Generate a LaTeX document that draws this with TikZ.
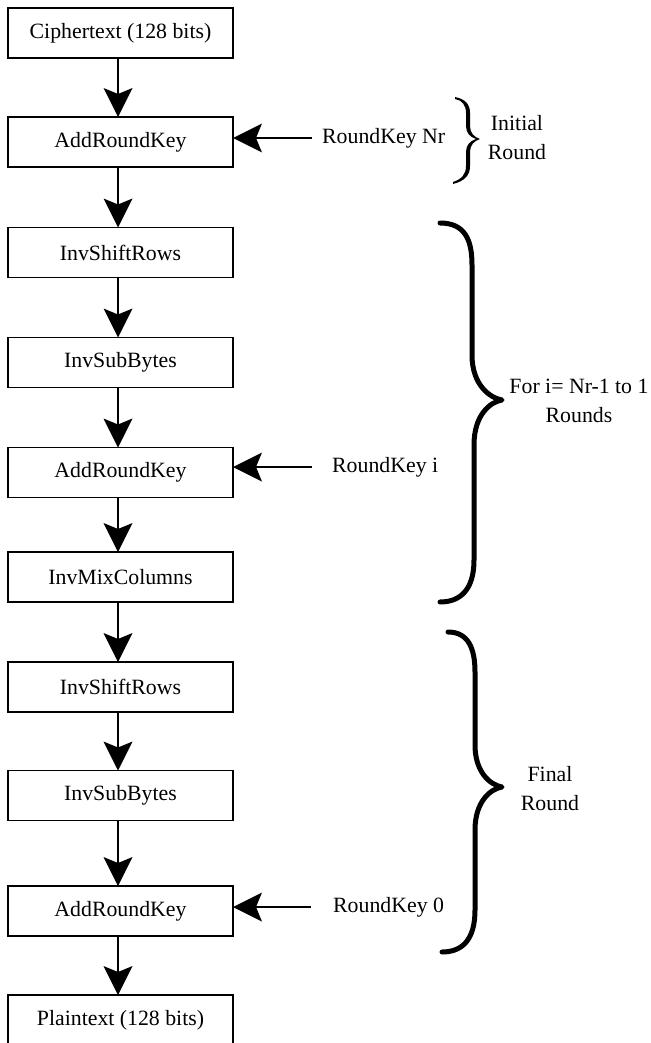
\documentclass[tikz,border=0pt]{standalone}
\usepackage{fontspec}
\setmainfont{Liberation Serif}
\usetikzlibrary{arrows.meta}
\begin{document}
\begin{tikzpicture}[x=1pt,y=-1pt,
  font=\fontsize{21.8}{29}\selectfont,
  stage/.style={draw, line width=1.8pt, minimum width=225pt, minimum height=50pt,
    inner sep=0pt, outer sep=0pt},
  flow/.style={line width=1.8pt,
    -{Stealth[length=29pt 0,width=29pt 0,inset=6pt 0,line width=0pt,fill=black]}},
  keylabel/.style={anchor=west, inner sep=0pt},
  bracelabel/.style={align=center, inner sep=0pt},
  bigbrace/.style={line width=5pt, line cap=round, line join=round}]
\useasboundingbox (0,0) rectangle (650,1043);

% main column of stages
\node[stage] (b1)  at (120.5,33)    {Ciphertext (128 bits)};
\node[stage] (b2)  at (120.5,142)   {AddRoundKey};
\node[stage] (b3)  at (120.5,252.5) {InvShiftRows};
\node[stage] (b4)  at (120.5,362.5) {InvSubBytes};
\node[stage] (b5)  at (120.5,472.5) {AddRoundKey};
\node[stage] (b6)  at (120.5,577)   {InvMixColumns};
\node[stage] (b7)  at (120.5,687)   {InvShiftRows};
\node[stage] (b8)  at (120.5,795.5) {InvSubBytes};
\node[stage] (b9)  at (120.5,911)   {AddRoundKey};
\node[stage] (b10) at (120.5,1020)  {Plaintext (128 bits)};

% downward flow
\foreach \a/\b in {b1/b2,b2/b3,b3/b4,b4/b5,b5/b6,b6/b7,b7/b8,b8/b9,b9/b10}
  \draw[flow] ([xshift=-2.5pt]\a.south) -- ([xshift=-2.5pt]\b.north);

% round keys
\node[keylabel] (k1) at (322,138) {RoundKey Nr};
\node[keylabel] (k2) at (332,467) {RoundKey i};
\node[keylabel] (k3) at (333,907) {RoundKey 0};
\draw[flow] ([xshift=-10pt]k1.west) -- (k1.west -| b2.east);
\draw[flow] ([xshift=-20pt]k2.west) -- (k2.west -| b5.east);
\draw[flow] ([xshift=-22pt]k3.west) -- (k3.west -| b9.east);

% small brace for the initial round
\fill (455,97) .. controls (465,99) and (470,104) .. (470,113) -- (470,126)
  .. controls (470,133) and (474,137) .. (480,139)
  .. controls (474,141) and (470,145) .. (470,152) -- (470,166)
  .. controls (470,175) and (465,181) .. (453,184)
  -- (453,182) .. controls (462,179) and (466,174) .. (466,166) -- (466,152)
  .. controls (466,145) and (470,141) .. (476,139)
  .. controls (470,137) and (466,133) .. (466,126) -- (466,113)
  .. controls (466,105) and (462,100) .. (455,99) -- cycle;
\node[bracelabel] (r1) at (517,138) {Initial\\Round};

% brace for the middle rounds
\draw[bigbrace] (440,223) .. controls (465,223) and (472,240) .. (472,265) -- (472,355)
  .. controls (472,385) and (490,398) .. (502,400)
  .. controls (490,402) and (474,415) .. (474,445) -- (474,560)
  .. controls (474,590) and (460,602) .. (440,602);
\node[bracelabel] (r2) at (579,401) {For i= Nr-1 to 1\\Rounds};

% brace for the final round
\draw[bigbrace] (448,632) .. controls (468,632) and (475,648) .. (475,672) -- (475,745)
  .. controls (475,772) and (490,785) .. (502,787)
  .. controls (490,789) and (475,802) .. (475,830) -- (475,910)
  .. controls (475,940) and (462,952) .. (442,952);
\node[bracelabel] (r3) at (550,789) {Final\\Round};
\end{tikzpicture}
\end{document}
